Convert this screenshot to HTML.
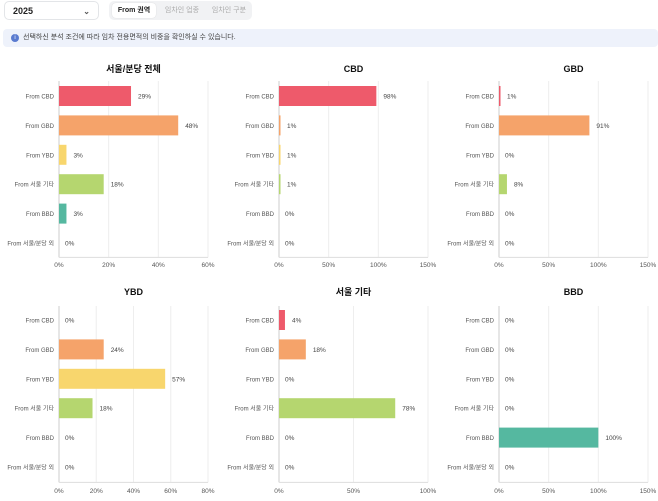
<!DOCTYPE html>
<html><head><meta charset="utf-8">
<style>
body{margin:0;width:658px;height:501px;background:#fff;font-family:"Liberation Sans","Noto Sans CJK KR",sans-serif;overflow:hidden;position:relative}
.sel{position:absolute;left:4px;top:1px;width:95px;height:19px;border:1px solid #e3e5e8;border-radius:5px;font-size:9px;font-weight:bold;color:#222;line-height:19px;padding-left:8px;box-sizing:border-box}
.sel span{position:absolute;right:8px;top:0;font-size:8px;color:#555}
.tabs{position:absolute;left:109px;top:1px;width:143px;height:19px;background:#f1f2f4;border-radius:5px}
.tab{position:absolute;top:2px;height:15px;line-height:15px;font-size:7px;color:#aaa;text-align:center}
.tab.on{background:#fff;color:#222;font-weight:bold;border-radius:4px;box-shadow:0 0 1px #ccc}
.info{position:absolute;left:3px;top:29px;width:655px;height:18px;background:#eef2fb;border-radius:4px;font-size:7px;color:#444;line-height:18px;padding-left:20px;box-sizing:border-box}
.info i{position:absolute;left:8px;top:5px;width:8px;height:8px;border-radius:50%;background:#5a7bd0;color:#fff;font-size:6px;line-height:8px;text-align:center;font-style:normal}
svg text{font-family:"Liberation Sans","Noto Sans CJK KR",sans-serif}
</style></head><body>
<div class="sel">2025<span>⌄</span></div>
<div class="tabs">
<div class="tab on" style="left:3px;width:44px">From 권역</div>
<div class="tab" style="left:50px;width:46px">임차인 업종</div>
<div class="tab" style="left:97px;width:46px">임차인 구분</div>
</div>
<div class="info"><i>i</i>선택하신 분석 조건에 따라 임차 전용면적의 비중을 확인하실 수 있습니다.</div>
<svg id="c" width="658" height="501" style="position:absolute;left:0;top:0"></svg>
<script>
const categories=["From CBD","From GBD","From YBD","From 서울 기타","From BBD","From 서울/분당 외"];
const titles=["서울/분당 전체","CBD","GBD","YBD","서울 기타","BBD"];
const values1=[29,48,3,18,3,0];
const values2=[98,1,1,1,0,0];
const values3=[1,91,0,8,0,0];
const values4=[0,24,57,18,0,0];
const values5=[4,18,0,78,0,0];
const values6=[0,0,0,0,100,0];
const ticks1=[0,20,40,60];
const ticks2=[0,50,100,150];
const ticks3=[0,50,100,150];
const ticks4=[0,20,40,60,80];
const ticks5=[0,50,100];
const ticks6=[0,50,100,150];
const allVals=[values1,values2,values3,values4,values5,values6];
const allTicks=[ticks1,ticks2,ticks3,ticks4,ticks5,ticks6];
const colors=["#ee5a6b","#f5a36a","#f8d66d","#b5d66f","#55b8a0","#999"];
const svg=document.getElementById('c');const NS="http://www.w3.org/2000/svg";
function mk(t,a,p){const e=document.createElementNS(NS,t);for(const k in a)e.setAttribute(k,a[k]);(p||svg).appendChild(e);return e;}
for(let p=0;p<6;p++){
  const col=p%3,row=Math.floor(p/3);
  const x0=59+col*220,x1=x0+149;
  const top=row?306:81,step=29.4,bottom=top+step*6;
  const cy0=row?320:96;
  const ticks=allTicks[p],vmax=ticks[ticks.length-1];
  const xs=v=>x0+(x1-x0)*v/vmax;
  const ys=i=>cy0+i*step;
  const g=mk('g',{});
  
  
  const t=mk('text',{x:(x0+x1)/2,y:row?295:72,'text-anchor':'middle','font-size':9,'font-weight':'bold',fill:'#111'},g);t.textContent=titles[p];
  
  
  ticks.forEach(v=>{
    mk('line',{x1:xs(v),x2:xs(v),y1:top,y2:bottom,stroke:v?'#eee':'#ccc','stroke-width':1},g);
    const tl=mk('text',{x:xs(v),y:row?493:267,'text-anchor':'middle','font-size':6.5,fill:'#555'},g);tl.textContent=v+'%';
    
    
  });
  mk('line',{x1:x0,x2:x1,y1:bottom,y2:bottom,stroke:'#ddd'},g);
  categories.forEach((c,i)=>{
    const v=allVals[p][i],y=ys(i);
    const cl=mk('text',{x:x0-5,y:y+2.5,'text-anchor':'end','font-size':6,fill:'#555'},g);cl.textContent=c;
    
    
    if(v>0){
      const b=mk('rect',{x:x0,y:y-10,width:Math.max(1.5,xs(v)-x0),height:20,fill:colors[i]},g);
      
      
    }
    const vl=mk('text',{x:xs(v)+(v>0?7:6),y:y+2.5,'font-size':6.5,fill:'#444'},g);vl.textContent=v+'%';
    
    
  });
}
</script>
</body></html>
